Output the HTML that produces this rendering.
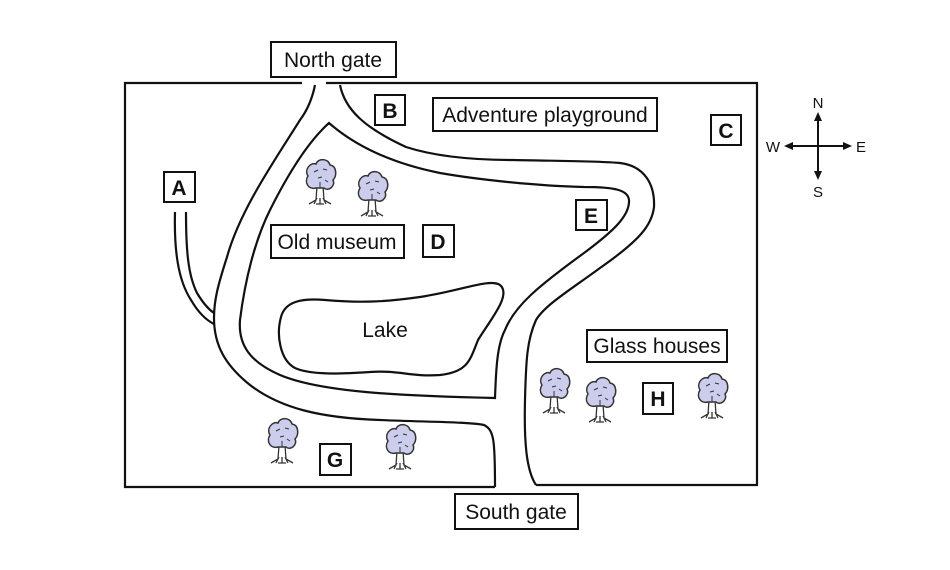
<!DOCTYPE html>
<html><head><style>
html,body{margin:0;padding:0;background:#fff;}
svg{display:block;}
text{font-family:"Liberation Sans",sans-serif;fill:#111;}
</style></head><body>
<svg width="950" height="570" viewBox="0 0 950 570" xmlns="http://www.w3.org/2000/svg">
<defs>
<g id="tree">
 <path d="M-3,8 L-4,22 L-11,26 M-3,20 L-6,26 M3,8 L4,22 L11,26 M3,20 L6,26 M0,20 L0,26 M-4,26 L4,26" stroke="#333" stroke-width="1.3" fill="none"/>
 <path d="M-4,10 C-12,12 -16,4 -12,-2 C-16,-8 -10,-16 -4,-14 C-2,-20 8,-20 10,-13 C17,-12 17,-2 13,2 C16,8 8,14 4,10 Z" fill="#ccccec" stroke="#333" stroke-width="1.5"/>
 <path d="M-6,-6 l4,-2 M3,-9 l4,1 M-2,0 l4,-1 M5,2 l3,2 M0,4 l0,6" stroke="#333" stroke-width="1" fill="none"/>
</g>
</defs>
<g fill="none" stroke="#111" stroke-width="2.2">
 <path d="M302,83 L125,83 L125,487 L495,487"/>
 <path d="M326,83 L757,83 L757,485 L536,485"/>
 <path d="M315,85 C312,100 306,112 300,120 C275,160 240,210 227,257 C218,285 214,300 214,318 C214,345 225,365 250,385 C280,408 320,418 380,420 C430,422 470,422 484,425 C494,430 495,440 495,487"/>
 <path d="M329,123 C310,140 290,170 270,210 C255,240 245,280 240,320 C238,345 250,362 280,375 C320,392 400,396 495,398 C496,370 497,345 505,330 C515,305 540,285 584,253 C615,230 630,215 629,200 C628,190 615,187 584,187 C540,186 480,180 440,173 C400,165 360,150 329,123 Z"/>
 <path d="M340,85 C345,110 365,128 406,147 C440,158 480,160 513,160 C560,161 600,161 620,163 C645,166 655,185 654,207 C652,225 640,240 600,268 C570,290 545,305 536,320 C527,340 526,360 525,400 C524,440 526,470 536,485"/>
 <path d="M175,212 C174,250 178,280 191,300 C198,312 206,320 214,324"/>
 <path d="M186,212 C186,250 188,275 197,293 C203,303 208,309 214,313"/>
 <path d="M281,317 C285,302 300,298 325,300 C360,303 385,302 420,297 C460,291 490,278 500,285 C512,295 490,320 478,340 C470,360 468,372 440,375 C410,377 400,370 370,372 C340,374 310,375 295,368 C280,360 276,335 281,317 Z"/>
</g>
<g fill="#fff" stroke="#111" stroke-width="2">
 <rect x="271" y="42" width="125" height="35"/>
 <rect x="455" y="494" width="123" height="35"/>
 <rect x="433" y="98" width="224" height="33"/>
 <rect x="271" y="225" width="133" height="33"/>
 <rect x="587" y="330" width="140" height="32"/>
 <rect x="375" y="95" width="30" height="30"/>
 <rect x="711" y="115" width="30" height="30"/>
 <rect x="164" y="172" width="31" height="30"/>
 <rect x="423" y="225" width="31" height="32"/>
 <rect x="576" y="200" width="31" height="30"/>
 <rect x="643" y="383" width="30" height="31"/>
 <rect x="320" y="444" width="31" height="31"/>
</g>
<g font-size="21" text-anchor="middle">
 <text x="333" y="67">North gate</text>
 <text x="516" y="519">South gate</text>
 <text x="545" y="122">Adventure playground</text>
 <text x="337" y="249">Old museum</text>
 <text x="657" y="353">Glass houses</text>
 <text x="385" y="337">Lake</text>
</g>
<g font-size="21" font-weight="bold" text-anchor="middle">
 <text x="390" y="118">B</text>
 <text x="726" y="138">C</text>
 <text x="179" y="195">A</text>
 <text x="438" y="249">D</text>
 <text x="591" y="223">E</text>
 <text x="658" y="406">H</text>
 <text x="335" y="467">G</text>
</g>
<use href="#tree" x="320" y="178"/>
<use href="#tree" x="372" y="190"/>
<use href="#tree" x="282" y="437"/>
<use href="#tree" x="400" y="443"/>
<use href="#tree" x="554" y="387"/>
<use href="#tree" x="600" y="396"/>
<use href="#tree" x="712" y="392"/>
<g stroke="#111" stroke-width="2" fill="#111">
 <line x1="818" y1="116" x2="818" y2="176"/>
 <line x1="788" y1="146" x2="848" y2="146"/>
 <path d="M818,112 l-4,9 l8,0 Z" stroke="none"/>
 <path d="M818,180 l-4,-9 l8,0 Z" stroke="none"/>
 <path d="M784,146 l9,-4 l0,8 Z" stroke="none"/>
 <path d="M852,146 l-9,-4 l0,8 Z" stroke="none"/>
</g>
<g font-size="15" text-anchor="middle">
 <text x="818" y="108">N</text>
 <text x="818" y="197">S</text>
 <text x="773" y="152">W</text>
 <text x="861" y="152">E</text>
</g>
</svg>
</body></html>
